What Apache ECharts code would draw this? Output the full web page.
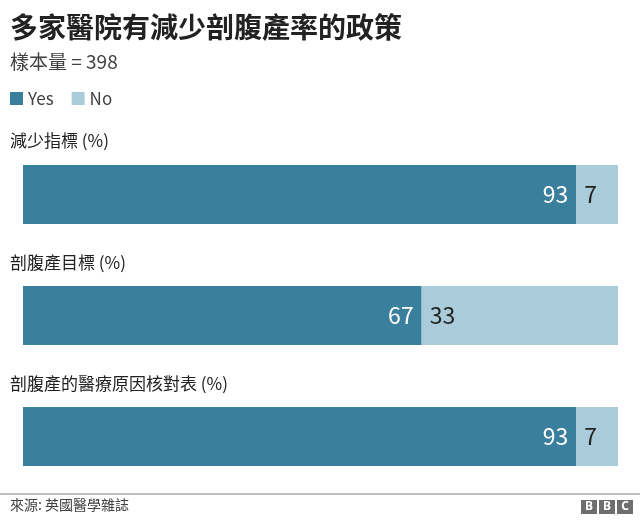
<!DOCTYPE html>
<html lang="zh-Hant">
<head>
  <meta charset="UTF-8" />
  <title>多家醫院有減少剖腹產率的政策</title>
  <script src="https://cdn.jsdelivr.net/npm/echarts@6/dist/echarts.min.js"></script>
  <style>
    html, body, #main {
      margin: 0; padding: 0; width: 100%; height: 100%;
      background: #fff;
    }
  </style>
</head>
<body>
  <div id="main"></div>
  <script>
    const FONT = '"Noto Sans CJK TC", "Noto Sans", sans-serif';

    const questions = ['減少指標 (%)', '剖腹產目標 (%)', '剖腹產的醫療原因核對表 (%)'];
    const yesValues = [93, 67, 93];
    const noValues = [7, 33, 7];
    const seriesNames = ['Yes', 'No'];

    const YES_COLOR = '#3a7f9c';
    const NO_COLOR = '#aacbd9';

    const chart = echarts.init(document.getElementById('main'));

    const gridTops = [165, 286, 407];
    const labelTops = [127, 249, 370];

    const grids = [], xAxes = [], yAxes = [], series = [], titles = [];

    titles.push({
      text: '多家醫院有減少剖腹產率的政策',
      left: 5, top: 8,
      textStyle: { fontFamily: FONT, fontSize: 28, fontWeight: 'bold', color: '#222' }
    });
    titles.push({
      text: '樣本量 = 398',
      left: 5, top: 47,
      textStyle: { fontFamily: FONT, fontSize: 19, fontWeight: 'normal', color: '#404040' }
    });

    questions.forEach((q, i) => {
      titles.push({
        text: q,
        left: 5, top: labelTops[i],
        textStyle: { fontFamily: FONT, fontSize: 17, fontWeight: 'normal', color: '#222' }
      });
      grids.push({ left: 23, width: 595, top: gridTops[i], height: 59 });
      xAxes.push({ type: 'value', gridIndex: i, min: 0, max: 100, show: false });
      yAxes.push({ type: 'category', gridIndex: i, data: [q], show: false });
      series.push({
        name: seriesNames[0], type: 'bar', stack: 's' + i,
        xAxisIndex: i, yAxisIndex: i,
        barWidth: '100%',
        itemStyle: { color: YES_COLOR },
        label: {
          show: true, position: 'insideRight', distance: 8,
          color: '#fff', fontSize: 23, fontFamily: FONT
        },
        data: [yesValues[i]]
      });
      series.push({
        name: seriesNames[1], type: 'bar', stack: 's' + i,
        xAxisIndex: i, yAxisIndex: i,
        barWidth: '100%',
        itemStyle: { color: NO_COLOR },
        label: {
          show: true, position: 'insideLeft', distance: 8,
          color: '#222', fontSize: 23, fontFamily: FONT
        },
        data: [noValues[i]]
      });
    });

    chart.setOption({
      animation: false,
      title: titles,
      legend: {
        data: seriesNames,
        left: 5, top: 85,
        itemWidth: 13, itemHeight: 13, itemGap: 18,
        icon: 'rect',
        textStyle: { fontFamily: FONT, fontSize: 17, color: '#404040' }
      },
      grid: grids,
      xAxis: xAxes,
      yAxis: yAxes,
      series: series,
      graphic: [
        {
          type: 'line',
          shape: { x1: 0, y1: 494, x2: 640, y2: 494 },
          style: { stroke: '#808080', lineWidth: 1 }
        },
        {
          type: 'text', left: 10, top: 498,
          style: { text: '來源: 英國醫學雜誌', fontFamily: FONT, fontSize: 14, fill: '#404040' }
        },
        ...['B', 'B', 'C'].map((ch, k) => ({
          type: 'group', left: 581 + k * 18, top: 500,
          children: [
            { type: 'rect', shape: { x: 0, y: 0, width: 16, height: 14 }, style: { fill: '#6e6e6e' } },
            { type: 'text', style: { text: ch, x: 8, y: 7, align: 'center', verticalAlign: 'middle',
              fontFamily: '"Noto Sans", sans-serif', fontWeight: 'bold', fontSize: 12, fill: '#fff' } }
          ]
        }))
      ]
    });
  </script>
</body>
</html>
